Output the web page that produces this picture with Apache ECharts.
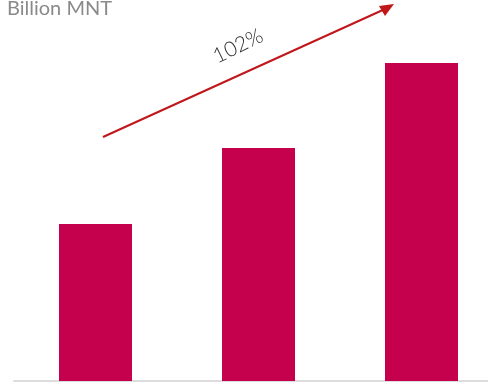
<!DOCTYPE html>
<html>
<head>
<meta charset="utf-8">
<script src="https://cdn.jsdelivr.net/npm/echarts@6/dist/echarts.min.js"></script>
<style>
html, body { margin: 0; padding: 0; background: #fff; }
#chart { width: 488px; height: 384px; }
</style>
</head>
<body>
<div id="chart"></div>
<script>
var categories = ["Y1", "Y2", "Y3"];
var values = [157, 233, 318];
var unitLabel = "Billion MNT";
var growthLabel = "102%";

var chart = echarts.init(document.getElementById('chart'));
var option = {
	animation: false,
	grid: { left: 14, right: -15, top: 0, bottom: 3, outerBoundsMode: 'none' },
	xAxis: {
		type: 'category',
		data: categories,
		axisLine: { lineStyle: { color: '#dcdcdc', width: 2 } },
		axisTick: { show: false },
		axisLabel: { show: false }
	},
	yAxis: {
		type: 'value',
		min: 0,
		max: 381,
		show: false,
		splitLine: { show: false }
	},
	series: [{
		type: 'bar',
		data: values,
		barWidth: 73,
		itemStyle: { color: '#C5004C' }
	}],
	graphic: [
		{
			type: 'text',
			x: 7,
			y: -1,
			style: { text: unitLabel, fill: '#8a8a8a', font: '400 20px Lato', verticalAlign: 'top' }
		},
		{
			type: 'line',
			shape: { x1: 103, y1: 137, x2: 385, y2: 9 },
			style: { stroke: '#C0171B', lineWidth: 2 }
		},
		{
			type: 'polygon',
			shape: { points: [[394, 4], [379, 6], [385, 16]] },
			style: { fill: '#C0171B' }
		},
		{
			type: 'text',
			x: 238,
			y: 46,
			rotation: 26 * Math.PI / 180,
			style: {
				text: growthLabel,
				fill: '#2e2e2e',
				font: '300 21px Lato',
				align: 'center',
				verticalAlign: 'middle'
			}
		}
	]
};
chart.setOption(option);
</script>
</body>
</html>
